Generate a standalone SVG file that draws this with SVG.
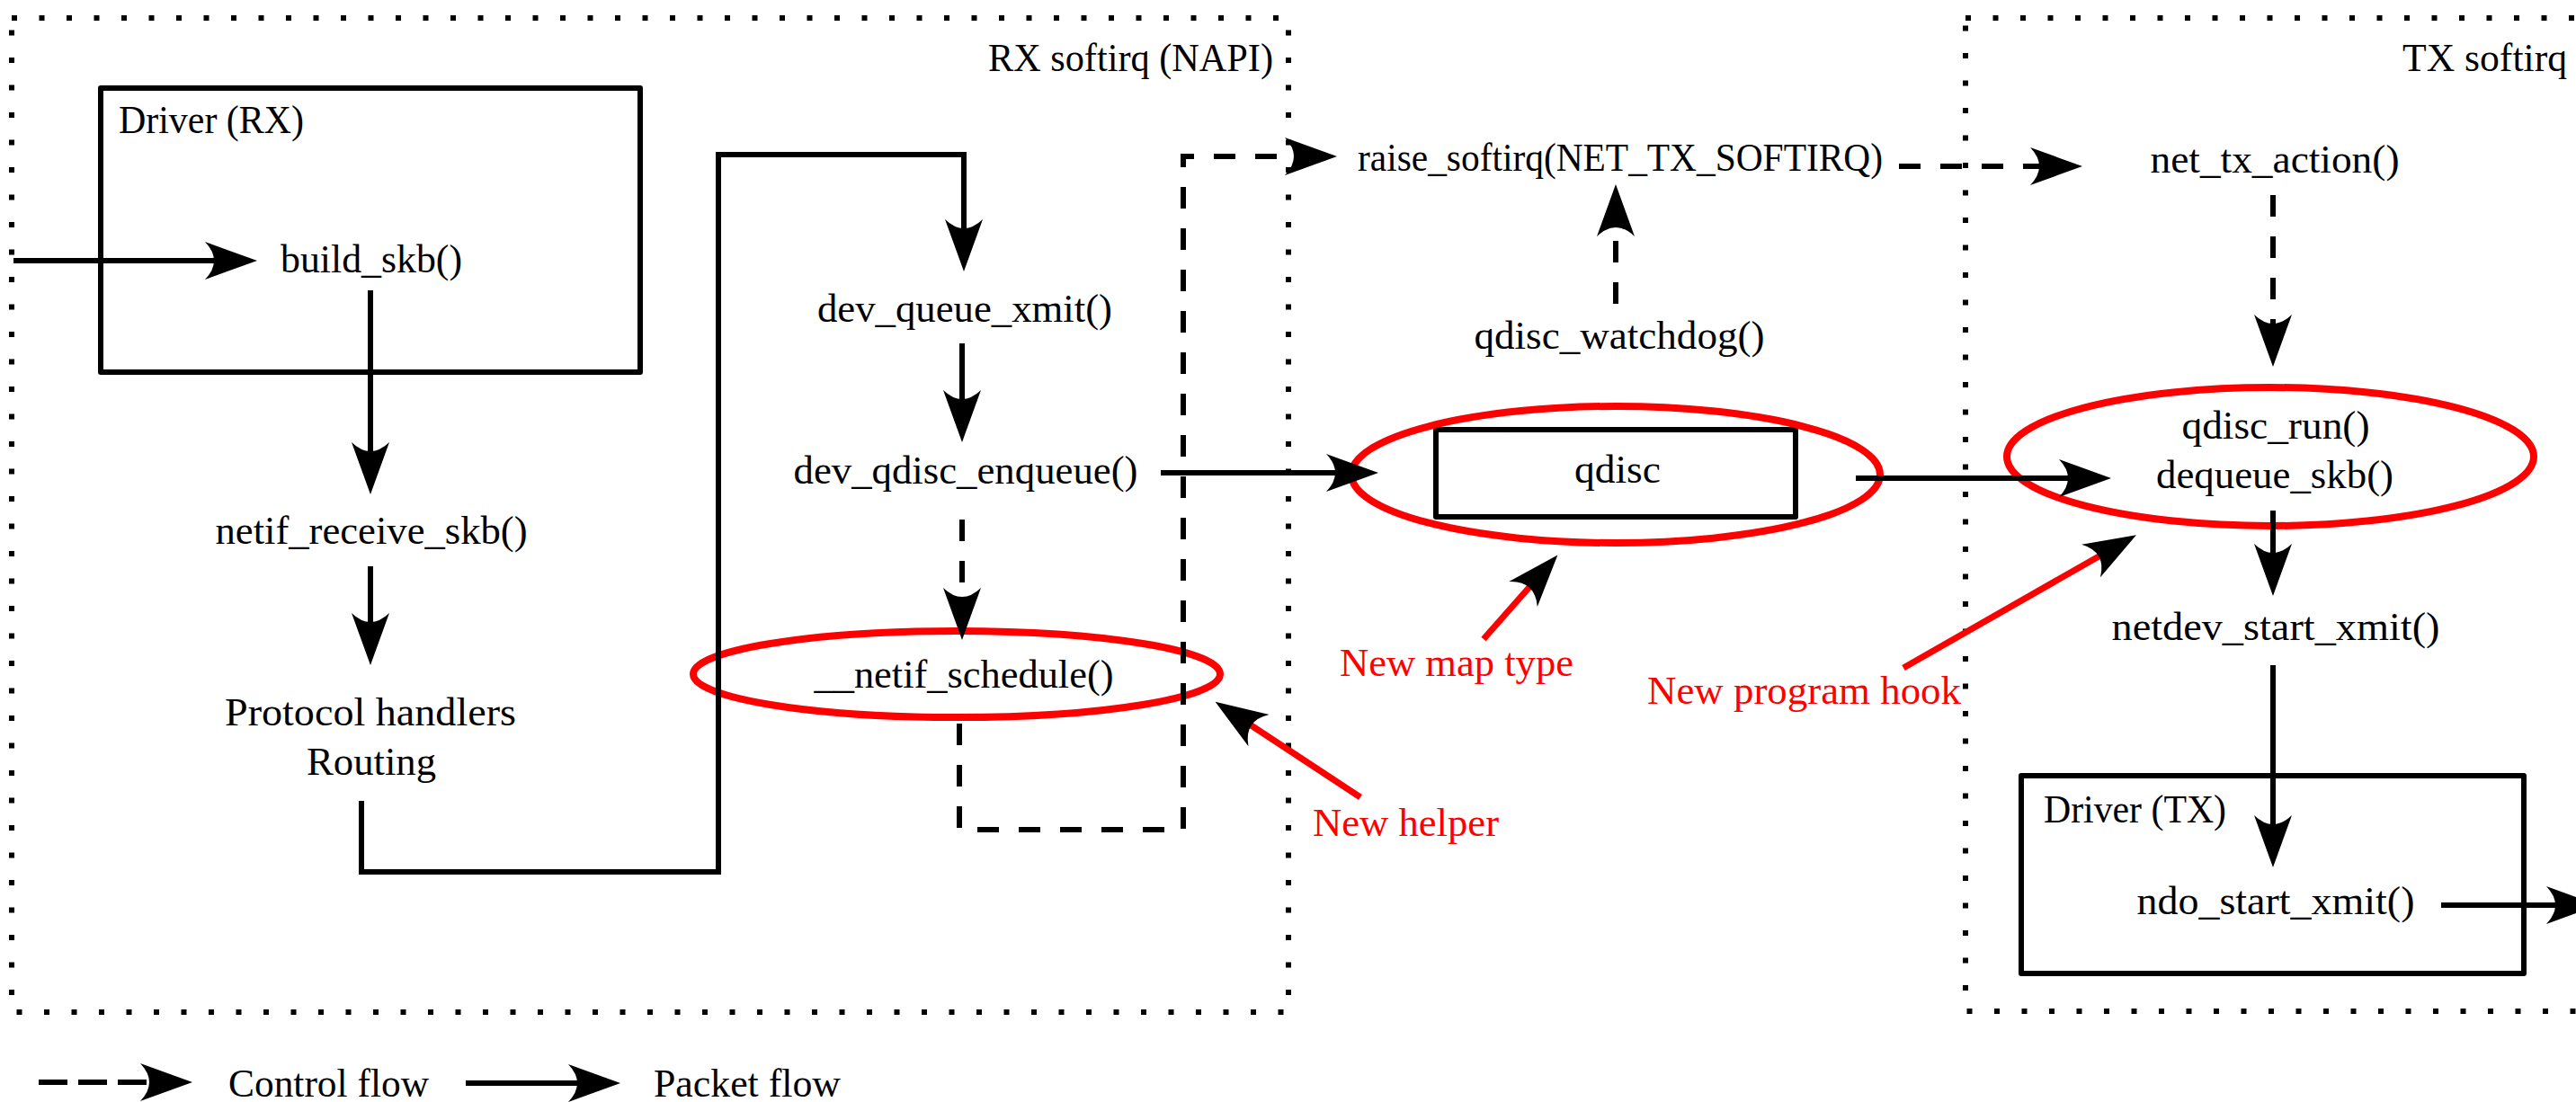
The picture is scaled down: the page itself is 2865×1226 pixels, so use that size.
<svg xmlns="http://www.w3.org/2000/svg" width="2865" height="1226" viewBox="0 0 2865 1226">
  <defs>
    <style>
      .lbl { font-family: "Liberation Serif", "DejaVu Serif", serif; font-size: 45px; fill: #000; }
      .note { fill: #ff0000; }
      .mid { text-anchor: middle; }
      .end { text-anchor: end; }
      .region { fill: none; stroke: #000; stroke-width: 6; stroke-dasharray: 6 24.5; }
      .box { fill: none; stroke: #000; stroke-width: 6; stroke-linejoin: round; }
      .pkt { fill: none; stroke: #000; stroke-width: 6; marker-end: url(#head); }
      .ctl { fill: none; stroke: #000; stroke-width: 6; stroke-dasharray: 24 22; marker-end: url(#head); }
      .hint { fill: none; stroke: #ff0000; stroke-width: 7; marker-end: url(#head); }
      .ring { fill: none; stroke: #ff0000; stroke-width: 8; }
    </style>
    <!-- concave-backed arrowhead, ref point sits inside the notch -->
    <marker id="head" markerUnits="userSpaceOnUse" viewBox="0 -22 58 44" refX="12" refY="0" markerWidth="58" markerHeight="44" orient="auto" overflow="visible">
      <path d="M58,0 L0,-21 Q20,0 0,21 Z" fill="#000"/>
    </marker>
  </defs>

  <rect width="2865" height="1226" fill="#fff"/>

  <!-- softirq context regions -->
  <g id="rx-softirq">
    <rect class="region" x="13" y="20" width="1420" height="1106"/>
    <text class="lbl end" x="1416" y="79" textLength="317" lengthAdjust="spacingAndGlyphs">RX softirq (NAPI)</text>
  </g>
  <g id="tx-softirq">
    <rect class="region" x="2186" y="20" width="900" height="1105"/>
    <text class="lbl" x="2672" y="79" textLength="183" lengthAdjust="spacingAndGlyphs">TX softirq</text>
  </g>

  <!-- nodes -->
  <g id="driver-rx">
    <rect class="box" x="112" y="98" width="600" height="316"/>
    <text class="lbl" x="132" y="148" textLength="206" lengthAdjust="spacingAndGlyphs">Driver (RX)</text>
  </g>
  <g id="build-skb">
    <text class="lbl mid" x="413" y="303" textLength="202" lengthAdjust="spacingAndGlyphs">build_skb()</text>
  </g>
  <g id="netif-receive-skb">
    <text class="lbl mid" x="413" y="605" textLength="347" lengthAdjust="spacingAndGlyphs">netif_receive_skb()</text>
  </g>
  <g id="protocol-handlers">
    <text class="lbl mid" x="412" y="807" textLength="324" lengthAdjust="spacingAndGlyphs">Protocol handlers</text>
    <text class="lbl mid" x="413" y="862" textLength="144" lengthAdjust="spacingAndGlyphs">Routing</text>
  </g>
  <g id="dev-queue-xmit">
    <text class="lbl mid" x="1073" y="358" textLength="328" lengthAdjust="spacingAndGlyphs">dev_queue_xmit()</text>
  </g>
  <g id="dev-qdisc-enqueue">
    <text class="lbl mid" x="1074" y="538" textLength="383" lengthAdjust="spacingAndGlyphs">dev_qdisc_enqueue()</text>
  </g>
  <g id="netif-schedule">
    <text class="lbl mid" x="1072" y="765" textLength="333" lengthAdjust="spacingAndGlyphs">__netif_schedule()</text>
    <ellipse class="ring" cx="1064" cy="750" rx="293" ry="48"/>
  </g>
  <g id="raise-softirq">
    <text class="lbl" x="1510" y="190" textLength="584" lengthAdjust="spacingAndGlyphs">raise_softirq(NET_TX_SOFTIRQ)</text>
  </g>
  <g id="qdisc-watchdog">
    <text class="lbl mid" x="1801" y="388" textLength="323" lengthAdjust="spacingAndGlyphs">qdisc_watchdog()</text>
  </g>
  <g id="qdisc">
    <rect class="box" x="1597" y="478" width="400" height="97"/>
    <text class="lbl mid" x="1799" y="537" textLength="96" lengthAdjust="spacingAndGlyphs">qdisc</text>
    <ellipse class="ring" cx="1797" cy="528" rx="294" ry="76"/>
  </g>
  <g id="net-tx-action">
    <text class="lbl mid" x="2530" y="192" textLength="277" lengthAdjust="spacingAndGlyphs">net_tx_action()</text>
  </g>
  <g id="qdisc-run">
    <text class="lbl mid" x="2531" y="488" textLength="209" lengthAdjust="spacingAndGlyphs">qdisc_run()</text>
    <text class="lbl mid" x="2530" y="543" textLength="264" lengthAdjust="spacingAndGlyphs">dequeue_skb()</text>
    <ellipse class="ring" cx="2525" cy="508" rx="293" ry="77"/>
  </g>
  <g id="netdev-start-xmit">
    <text class="lbl mid" x="2531" y="712" textLength="365" lengthAdjust="spacingAndGlyphs">netdev_start_xmit()</text>
  </g>
  <g id="driver-tx">
    <rect class="box" x="2248" y="863" width="559" height="220"/>
    <text class="lbl" x="2273" y="915" textLength="203" lengthAdjust="spacingAndGlyphs">Driver (TX)</text>
    <text class="lbl mid" x="2531" y="1017" textLength="309" lengthAdjust="spacingAndGlyphs">ndo_start_xmit()</text>
  </g>

  <!-- annotations -->
  <g id="note-map-type">
    <text class="lbl note" x="1490" y="752" textLength="260" lengthAdjust="spacingAndGlyphs">New map type</text>
  </g>
  <g id="note-helper">
    <text class="lbl note" x="1460" y="930" textLength="207" lengthAdjust="spacingAndGlyphs">New helper</text>
  </g>
  <g id="note-program-hook">
    <text class="lbl note" x="1832" y="783" textLength="349" lengthAdjust="spacingAndGlyphs">New program hook</text>
  </g>

  <!-- connectors -->
  <g id="connectors">
    <!-- packet flow -->
    <path class="pkt" d="M15,290 H240"/>
    <path class="pkt" d="M412,323 V504"/>
    <path class="pkt" d="M412,630 V694"/>
    <path class="pkt" d="M402,891 V970 H799 V172 H1072 V256"/>
    <path class="pkt" d="M1070,382 V446"/>
    <path class="pkt" d="M1291,526 H1487"/>
    <path class="pkt" d="M2064,532 H2302"/>
    <path class="pkt" d="M2528,568 V617"/>
    <path class="pkt" d="M2528,740 V919"/>
    <path class="pkt" d="M2715,1007 H2844"/>
    <!-- control flow -->
    <path class="ctl" d="M1070,578 V666"/>
    <path class="ctl" d="M1067,805 V923 H1316 V174 H1441"/>
    <path class="ctl" d="M1797,338 V251"/>
    <path class="ctl" d="M2112,185 H2270"/>
    <path class="ctl" d="M2528,217 V362"/>
    <!-- annotation pointers -->
    <path class="hint" d="M1513,887 L1390,806"/>
    <path class="hint" d="M1650,711 L1702,652"/>
    <path class="hint" d="M2117,743 L2336,618"/>
  </g>

  <!-- legend -->
  <g id="legend">
    <path class="ctl" style="stroke-dasharray: 32 12" d="M43,1204 H168"/>
    <text class="lbl" x="254" y="1220" textLength="223" lengthAdjust="spacingAndGlyphs">Control flow</text>
    <path class="pkt" d="M518,1205 H644"/>
    <text class="lbl" x="727" y="1220" textLength="208" lengthAdjust="spacingAndGlyphs">Packet flow</text>
  </g>
</svg>
